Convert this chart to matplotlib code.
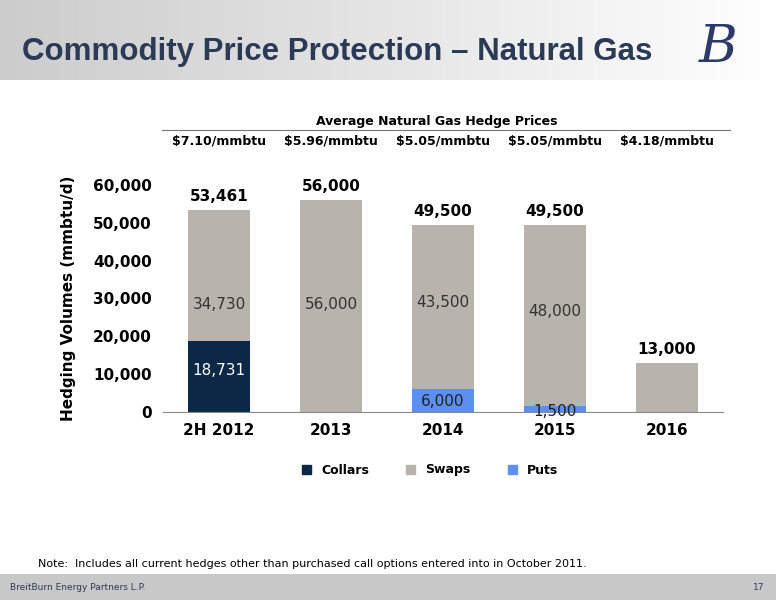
import matplotlib
matplotlib.use("Agg")
import matplotlib.pyplot as plt
import numpy as np

categories = ["2H 2012", "2013", "2014", "2015", "2016"]
prices = ["$7.10/mmbtu", "$5.96/mmbtu", "$5.05/mmbtu", "$5.05/mmbtu", "$4.18/mmbtu"]
collars = [18731, 0, 0, 0, 0]
puts = [0, 0, 6000, 1500, 0]
swaps = [34730, 56000, 43500, 48000, 13000]
totals = [53461, 56000, 49500, 49500, 13000]

c_col, c_swap, c_put = "#0b2847", "#b8b3ac", "#5b8ff0"
W, H = 776, 600
fig = plt.figure(figsize=(W/100, H/100), dpi=100)
fig.patch.set_facecolor("white")

def fx(px): return px / W
def fy(py): return 1 - py / H

band = fig.add_axes([0, fy(80), 1, 80/H]); band.axis("off")
grad = np.linspace(0.8, 1.0, 200)[None, :]
band.imshow(np.dstack([grad, grad, grad]), aspect="auto", extent=[0, 1, 0, 1])
band.set_xlim(0, 1); band.set_ylim(0, 1)
fig.text(fx(22), fy(52), "Commodity Price Protection – Natural Gas", fontsize=22.5, fontweight="bold",
         color="#2b3a55", va="center", family="Liberation Sans")
fig.text(fx(718), fy(48), "B", fontsize=38, style="italic", color="#2b3a6a", ha="center", va="center",
         family="DejaVu Serif")

ax = fig.add_axes([fx(163), fy(412), 560/W, (412-185)/H])
x = np.arange(len(categories))
w = 0.56
ax.bar(x, collars, w, color=c_col, label="Collars")
ax.bar(x, puts, w, bottom=collars, color=c_put, label="Puts")
bot = np.array(collars) + np.array(puts)
ax.bar(x, swaps, w, bottom=bot, color=c_swap, label="Swaps")
ax.set_ylim(0, 60000)
ax.set_xlim(-0.5, 4.5)
ax.set_yticks(range(0, 60001, 10000))
ax.set_yticklabels([f"{v:,}" for v in range(0, 60001, 10000)], fontsize=11, fontweight="bold")
ax.set_xticks(x)
ax.set_xticklabels(categories, fontsize=11, fontweight="bold")
for s in ["top", "right", "left"]:
    ax.spines[s].set_visible(False)
ax.spines["bottom"].set_color("#888888")
ax.tick_params(length=0, pad=8)
ax.set_ylabel("Hedging Volumes (mmbtu/d)", fontsize=11, fontweight="bold", labelpad=12)

for i, t in enumerate(totals):
    ax.text(i, t + 1500, f"{t:,}", ha="center", va="bottom", fontsize=11, fontweight="bold")
seg_y = [28500, 28500, 29000, 26500, None]
for i in range(4):
    ax.text(i, seg_y[i], f"{swaps[i]:,}", ha="center", va="center", fontsize=11, color="#333333")
ax.text(0, 11000, f"{collars[0]:,}", ha="center", va="center", fontsize=11, color="white")
ax.text(2, 2800, f"{puts[2]:,}", ha="center", va="center", fontsize=11, color="#222222")
ax.text(3, 200, f"{puts[3]:,}", ha="center", va="center", fontsize=11, color="#222222")

fig.text(fx(437), fy(121), "Average Natural Gas Hedge Prices", ha="center", va="center",
         fontsize=9, fontweight="bold")
fig.add_artist(plt.Line2D([fx(162), fx(730)], [fy(130), fy(130)], color="#777777", lw=0.8))
for i, p in enumerate(prices):
    fig.text(fx(219 + 112*i), fy(141), p, ha="center", va="center", fontsize=9, fontweight="bold")

handles = [plt.Rectangle((0, 0), 1, 1, color=c) for c in (c_col, c_swap, c_put)]
fig.legend(handles, ["Collars", "Swaps", "Puts"], loc="center", bbox_to_anchor=(fx(430), fy(470)),
           ncol=3, frameon=False, handlelength=0.7, handleheight=0.7, columnspacing=3,
           prop={"weight": "bold", "size": 9})

fig.text(fx(38), fy(564), "Note:  Includes all current hedges other than purchased call options entered into in October 2011.",
         fontsize=8, va="center")
foot = fig.add_axes([0, 0, 1, 26/H]); foot.axis("off")
foot.add_patch(plt.Rectangle((0, 0), 1, 1, color="#c8c8c8", transform=foot.transAxes))
fig.text(fx(10), fy(587), "BreitBurn Energy Partners L.P.", fontsize=6.5, color="#2b3a55", va="center")
fig.text(fx(764), fy(587), "17", fontsize=6.5, color="#2b3a55", va="center", ha="right")

fig.savefig("out.png", dpi=100)
